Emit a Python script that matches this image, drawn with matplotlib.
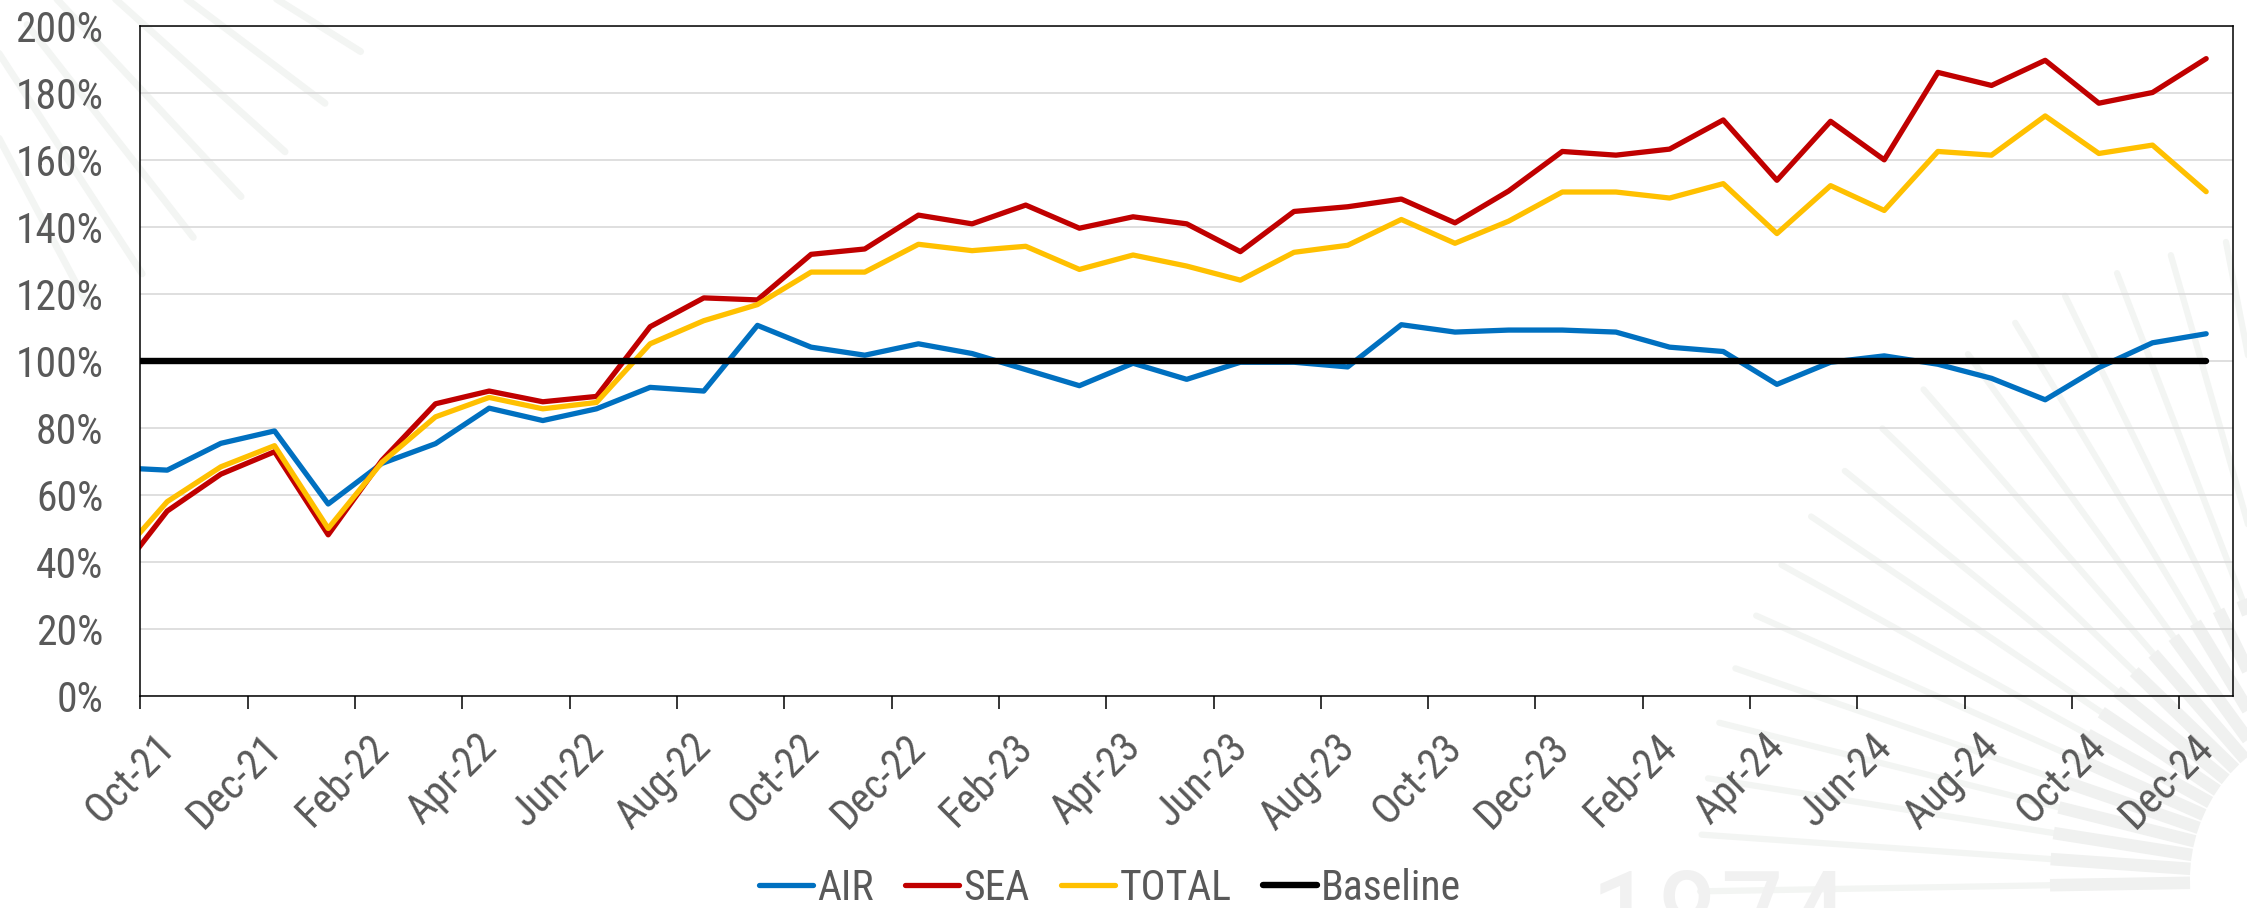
import os
import matplotlib
matplotlib.use("Agg")
import matplotlib.pyplot as plt
import matplotlib.transforms as mtransforms
from matplotlib.lines import Line2D
from matplotlib import font_manager
from matplotlib.font_manager import FontProperties
import numpy as np

# ---------------- data ----------------
months = ["Sep-21", "Oct-21", "Nov-21", "Dec-21", "Jan-22", "Feb-22", "Mar-22", "Apr-22",
          "May-22", "Jun-22", "Jul-22", "Aug-22", "Sep-22", "Oct-22", "Nov-22", "Dec-22",
          "Jan-23", "Feb-23", "Mar-23", "Apr-23", "May-23", "Jun-23", "Jul-23", "Aug-23",
          "Sep-23", "Oct-23", "Nov-23", "Dec-23", "Jan-24", "Feb-24", "Mar-24", "Apr-24",
          "May-24", "Jun-24", "Jul-24", "Aug-24", "Sep-24", "Oct-24", "Nov-24", "Dec-24"]

air = [68.2, 67.4, 75.4, 79.1, 57.3, 69.4, 75.3, 85.9, 82.2, 85.7, 92.1, 91.0, 110.6,
       104.1, 101.7, 105.1, 102.2, 97.4, 92.6, 99.3, 94.5, 99.6, 99.6, 98.2, 110.8,
       108.6, 109.2, 109.2, 108.6, 104.1, 102.8, 93.0, 99.6, 101.5, 99.0, 94.8, 88.4,
       98.0, 105.4, 108.1]
sea = [34.6, 55.2, 66.2, 72.9, 48.1, 70.3, 87.2, 91.0, 87.8, 89.4, 110.2, 118.8, 118.2,
       131.8, 133.4, 143.5, 140.9, 146.5, 139.6, 143.0, 140.9, 132.6, 144.6, 146.0, 148.3,
       141.2, 150.7, 162.5, 161.4, 163.2, 171.9, 153.9, 171.5, 160.0, 186.1, 182.2, 189.7,
       176.9, 180.1, 190.2]
total = [39.8, 58.0, 68.4, 74.7, 50.0, 69.7, 83.3, 89.1, 85.7, 87.6, 105.1, 112.0, 116.8,
         126.5, 126.5, 134.8, 132.9, 134.2, 127.3, 131.6, 128.3, 124.1, 132.4, 134.5, 142.2,
         135.1, 141.7, 150.4, 150.4, 148.6, 152.9, 138.0, 152.3, 144.9, 162.5, 161.4, 173.1,
         161.9, 164.4, 150.5]
baseline = [100] * len(months)

tick_labels = ["Oct-21", "Dec-21", "Feb-22", "Apr-22", "Jun-22", "Aug-22", "Oct-22",
               "Dec-22", "Feb-23", "Apr-23", "Jun-23", "Aug-23", "Oct-23", "Dec-23",
               "Feb-24", "Apr-24", "Jun-24", "Aug-24", "Oct-24", "Dec-24"]
series_names = ["AIR", "SEA", "TOTAL", "Baseline"]
colors = ["#0070C0", "#C00000", "#FFC000", "#000000"]

# ---------------- fonts: look for a narrow / condensed sans ----------------
best = None
for f in font_manager.fontManager.ttflist:
    n = f.name.lower()
    fn = os.path.basename(f.fname).lower().replace("-", "").replace("_", "")
    if any(k in fn for k in ("bold", "italic", "light", "thin", "medium", "black", "semi", "extra", "ultra", "oblique")):
        continue
    score = None
    if "liberation sans narrow" in n or "liberationsansnarrow" in fn or "arial narrow" in n:
        score = 0
    elif "robotocondensed" in fn or "roboto condensed" in n:
        score = 1
    elif ("notosans" in fn or "opensans" in fn) and "condensed" in fn:
        score = 2
    elif "dejavusanscondensed" in fn:
        score = 3
    if score is not None and (best is None or score < best[0]):
        best = (score, f.fname)

FS = 30
if best is not None:
    def fprop(size=FS):
        return FontProperties(fname=best[1], size=size)
else:
    FS = 26
    def fprop(size=FS):
        return FontProperties(family="Liberation Sans", size=size)

TXT = "#595959"

W, H, DPI = 2247, 908, 100
fig = plt.figure(figsize=(W / DPI, H / DPI), dpi=DPI)
fig.patch.set_facecolor("white")

def fx(px):
    return px / W

def fy(py):
    return 1 - py / H

# ---------------- faint watermark (decorative sunburst) ----------------
cx, cy = 2350, 880
for ang in np.arange(96, 186, 5.0):
    a = np.deg2rad(ang)
    dx, dy = np.cos(a), -np.sin(a)
    x0, y0 = cx + 300 * dx, cy + 300 * dy
    x1, y1 = cx + 650 * dx, cy + 650 * dy
    fig.add_artist(Line2D([fx(x0), fx(x1)], [fy(y0), fy(y1)], transform=fig.transFigure,
                          color="#F3F5F3", lw=4.5, zorder=-5, solid_capstyle="round"))
    x0, y0 = cx + 160 * dx, cy + 160 * dy
    x1, y1 = cx + 300 * dx, cy + 300 * dy
    fig.add_artist(Line2D([fx(x0), fx(x1)], [fy(y0), fy(y1)], transform=fig.transFigure,
                          color="#F0F1F0", lw=9, zorder=-5, solid_capstyle="butt"))
# top-left fragment of another sunburst
cx2, cy2 = -250, -330
for ang in np.arange(-62, -26, 5.0):
    a = np.deg2rad(ang)
    dx, dy = np.cos(a), -np.sin(a)
    x0, y0 = cx2 + 450 * dx, cy2 + 450 * dy
    x1, y1 = cx2 + 720 * dx, cy2 + 720 * dy
    fig.add_artist(Line2D([fx(x0), fx(x1)], [fy(y0), fy(y1)], transform=fig.transFigure,
                          color="#F3F5F3", lw=5, zorder=-5, solid_capstyle="round"))
fig.text(fx(1590), fy(965), "1874", fontproperties=fprop(95), color="#F1F1F1",
         ha="left", va="baseline", zorder=-5)

# ---------------- axes ----------------
left, right, top, bottom = 140.4, 2233, 25.8, 696
ax = fig.add_axes([fx(left), fy(bottom), fx(right - left), (bottom - top) / H])
ax.set_facecolor("none")

x = np.arange(len(months)) - 0.5
for vals, name, c in zip([air, sea, total, baseline], series_names, colors):
    lw = 4.6 if name == "Baseline" else 3.8
    ax.plot(x, vals, color=c, lw=lw, label=name, solid_capstyle="round",
            solid_joinstyle="round")

ax.set_xlim(0, 39)
ax.set_ylim(0, 200)
ax.set_yticks(np.arange(0, 201, 20))
ax.set_yticklabels([f"{v}%" for v in range(0, 201, 20)])
ax.grid(axis="y", color="#D9D9D9", lw=1.2)
ax.set_axisbelow(True)

for s in ax.spines.values():
    s.set_color("black")
    s.set_linewidth(1.1)

ax.set_xticks(np.arange(0, 39, 2))
ax.set_xticklabels(tick_labels)
ax.tick_params(axis="x", length=9.4, width=1.1, color="black", pad=23, labelcolor=TXT)
ax.tick_params(axis="y", length=0, pad=26.6, labelcolor=TXT)

offset = mtransforms.ScaledTranslation(0.28, 0, fig.dpi_scale_trans)
for lab in ax.get_xticklabels():
    lab.set_fontproperties(fprop())
    lab.set_rotation(45)
    lab.set_ha("right")
    lab.set_va("center")
    lab.set_rotation_mode("anchor")
    lab.set_transform(lab.get_transform() + offset)
for lab in ax.get_yticklabels():
    lab.set_fontproperties(fprop())

handles, labels = ax.get_legend_handles_labels()
leg = fig.legend(handles, labels, loc="center", bbox_to_anchor=(0.494, fy(888)), ncol=4,
                 frameon=False, prop=fprop(), handlelength=1.3, handletextpad=0.1,
                 columnspacing=0.75, borderaxespad=0)
for t in leg.get_texts():
    t.set_color(TXT)

fig.savefig("out.png", dpi=DPI, facecolor="white")
